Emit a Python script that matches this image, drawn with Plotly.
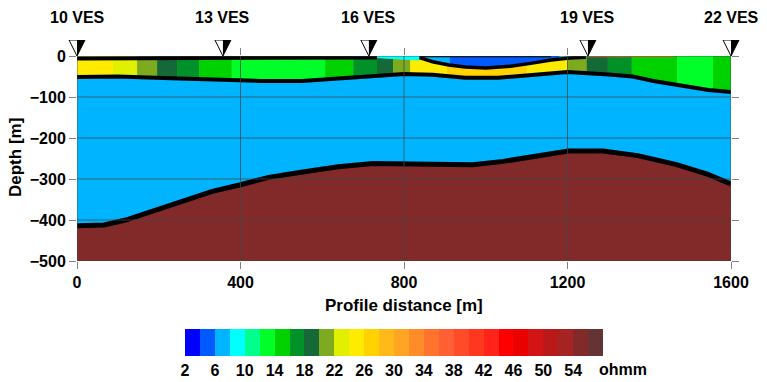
import numpy as np
import plotly.graph_objects as go

W, H = 767, 382

# ---------------- data ----------------
ves_labels = ["10 VES", "13 VES", "16 VES", "19 VES", "22 VES"]
ves_x = [0, 357, 714, 1250, 1600]

# bottom of the top (coloured) layer
top_x = [0, 100, 230, 350, 400, 450, 550, 630, 730, 800, 870, 950, 1030, 1115, 1200,
         1300, 1360, 1410, 1460, 1495, 1545, 1600]
top_d = [-51, -50, -54, -57, -58, -61, -61, -55, -49, -44, -46, -53, -53, -46, -39,
         -45, -50, -61, -69, -76, -83, -88]

# boundary between the aquifer (blue) and the bedrock (brown)
base_x = [0, 66, 119, 183, 225, 278, 331, 400, 469, 544, 639, 724, 809, 883, 968,
          1043, 1128, 1202, 1287, 1372, 1467, 1542, 1600]
base_d = [-414, -412, -400, -378, -365, -347, -330, -314, -296, -284, -270, -262, -262,
          -265, -265, -257, -243, -232, -232, -243, -265, -288, -312]

# resistivity of the cells of the top layer
cell_edges = [0, 88, 147, 196, 245, 299, 378, 607, 676, 734, 773, 815, 905, 1100, 1200,
              1247, 1298, 1357, 1468, 1556, 1600]
cell_rho = [25, 23, 21, 19, 17, 15, 13, 15, 17, 19, 21, 25, 27, 25, 21, 19, 17, 15, 13, 15]

# shallow lens
lens_x = [838, 870, 910, 950, 1000, 1060, 1110, 1160, 1205, 1245]
lens_d = [-4, -14, -22, -27, -29, -25, -18, -10, -5, -3]
lens_edges = [838, 912, 1180, 1245]
lens_rho = [7, 5, 9]

cyan_x = [734, 838]
cyan_d = [-4, -10]
cyan_rho = 9

aquifer_rho = 7
bedrock_rho = 55
surf_rho = 36
surf_x = [1250, 1460]

cbar_ticks = [2, 6, 10, 14, 18, 22, 26, 30, 34, 38, 42, 46, 50, 54]
rho_min, rho_max = 2, 58

palette = [
    (0, 0, 255), (0, 90, 255), (0, 180, 255), (0, 255, 255), (0, 255, 140),
    (0, 255, 40), (0, 210, 0), (0, 145, 40), (20, 105, 55), (125, 170, 30),
    (225, 240, 0), (255, 235, 0), (255, 210, 0), (255, 185, 25), (255, 165, 35),
    (255, 140, 40), (255, 115, 45), (255, 95, 50), (255, 75, 40), (255, 55, 30),
    (255, 35, 25), (255, 0, 0), (235, 0, 0), (210, 20, 20), (185, 25, 25),
    (165, 35, 35), (130, 42, 42), (100, 52, 52),
]
n = len(palette)
step = (rho_max - rho_min) / n


def col(rho):
    i = int(np.clip((rho - rho_min) // step, 0, n - 1))
    r, g, b = palette[i]
    return f"rgb({r},{g},{b})"


cscale = []
for i, (r, g, b) in enumerate(palette):
    c = f"rgb({r},{g},{b})"
    cscale.append([i / n, c])
    cscale.append([(i + 1) / n, c])

fig = go.Figure()


def poly(xs, ys, color, xa="x", ya="y", lw=1, lc=None):
    fig.add_trace(go.Scatter(x=xs, y=ys, mode="lines", fill="toself", fillcolor=color,
                             line=dict(color=lc or color, width=lw), xaxis=xa, yaxis=ya,
                             hoverinfo="skip", showlegend=False))


def segment_with_bound(x0, x1, bx, bd):
    inner = [v for v in bx if x0 < v < x1]
    xs = [x0] + inner + [x1]
    ds = list(np.interp(xs, bx, bd))
    return xs, ds


# bedrock
bx = list(base_x)
poly(bx + bx[::-1], list(base_d) + [-520] * len(bx), col(bedrock_rho))
# aquifer
txs = list(top_x)
poly(txs + bx[::-1], list(top_d) + list(base_d)[::-1], col(aquifer_rho))
# top layer cells
for x0, x1, r in zip(cell_edges[:-1], cell_edges[1:], cell_rho):
    xs, ds = segment_with_bound(x0, x1, top_x, top_d)
    poly([x0, x1] + xs[::-1], [0, 0] + ds[::-1], col(r))
# cyan strip
poly([cyan_x[0], cyan_x[1], cyan_x[1], cyan_x[0]], [0, 0, cyan_d[1], cyan_d[0]], col(cyan_rho))
# lens
for x0, x1, r in zip(lens_edges[:-1], lens_edges[1:], lens_rho):
    xs, ds = segment_with_bound(x0, x1, lens_x, lens_d)
    poly([x0, x1] + xs[::-1], [0, 0] + ds[::-1], col(r))


# black boundary lines
def bline(xs, ys, w):
    fig.add_trace(go.Scatter(x=xs, y=ys, mode="lines", line=dict(color="black", width=w),
                             hoverinfo="skip", showlegend=False))


bline([0, cyan_x[0]], [-6, -3.5], 4)
bline(lens_x, lens_d, 3.5)
bline([lens_x[0], lens_x[-3]], [-1, -1], 1.5)
bline(top_x, top_d, 4)
bline(base_x, base_d, 5)
fig.add_trace(go.Scatter(x=surf_x, y=[-1, -1], mode="lines",
                         line=dict(color=col(surf_rho), width=1.5), opacity=0.8,
                         hoverinfo="skip", showlegend=False))

# colour bar
fig.add_trace(go.Scatter(
    x=[None], y=[None], mode="markers", showlegend=False, hoverinfo="skip",
    marker=dict(color=[rho_min], cmin=rho_min, cmax=rho_max, colorscale=cscale,
                showscale=True,
                colorbar=dict(orientation="h", x=394 / W, xanchor="center",
                              y=1 - 350.5 / H, yanchor="middle",
                              len=438, lenmode="pixels", thickness=27,
                              tickvals=cbar_ticks, ticks="", outlinewidth=0,
                              tickfont=dict(family="Liberation Sans", size=16,
                                            color="black", weight="bold"))),
))

# VES markers in a strip above the section
x_lo, x_hi = 77, 731
sc = (x_hi - x_lo) / 1600.0
s_lo, s_hi = 40, 765
tri_h = 8.0 / sc
for xv in ves_x:
    poly([xv - tri_h, xv, xv, xv - tri_h], [1, 1, 0, 1], "white", xa="x2", ya="y2", lw=0)
    poly([xv, xv + tri_h, xv, xv], [1, 1, 0, 1], "black", xa="x2", ya="y2", lw=0)
    fig.add_trace(go.Scatter(x=[xv - tri_h, xv + tri_h, xv, xv - tri_h], y=[1, 1, 0, 1],
                             mode="lines", line=dict(color="black", width=1),
                             xaxis="x2", yaxis="y2", hoverinfo="skip", showlegend=False))

# grid drawn above fills
grid_c = "rgba(70,70,70,0.75)"
shapes = []
for xv in [0, 400, 800, 1200, 1600]:
    shapes.append(dict(type="line", xref="x", yref="y", x0=xv, x1=xv, y0=-500, y1=0,
                       line=dict(color=grid_c, width=1), layer="above"))
for yv in [0, -100, -200, -300, -400, -500]:
    shapes.append(dict(type="line", xref="x", yref="y", x0=0, x1=1600, y0=yv, y1=yv,
                       line=dict(color=grid_c, width=1), layer="above"))

font_b = dict(family="Liberation Sans", size=16, color="black", weight="bold")
ann = []
for lab, xv in zip(ves_labels, ves_x):
    ann.append(dict(text=lab, x=xv, xref="x", y=1 - 17 / H, yref="paper", showarrow=False,
                    xanchor="center", yanchor="middle", font=font_b))
ann.append(dict(text="Profile distance [m]", x=404 / W, y=1 - 305 / H, xref="paper",
                yref="paper", showarrow=False, xanchor="center", yanchor="middle",
                font=dict(family="Liberation Sans", size=17, color="black", weight="bold")))
ann.append(dict(text="Depth [m]", x=15 / W, y=1 - 158 / H, xref="paper", yref="paper",
                showarrow=False, textangle=-90, xanchor="center", yanchor="middle",
                font=dict(family="Liberation Sans", size=17, color="black", weight="bold")))
ann.append(dict(text="ohmm", x=623 / W, y=1 - 369 / H, xref="paper", yref="paper",
                showarrow=False, xanchor="center", yanchor="middle", font=font_b))

fig.update_layout(
    width=W, height=H, margin=dict(l=0, r=0, t=0, b=0, autoexpand=False),
    paper_bgcolor="white", plot_bgcolor="white",
    showlegend=False,
    xaxis=dict(domain=[x_lo / W, x_hi / W], range=[0, 1600], tickvals=[0, 400, 800, 1200, 1600],
               showgrid=False, zeroline=False, ticks="outside", ticklen=7,
               tickcolor="rgb(130,130,130)", mirror="ticks", showline=False,
               tickfont=font_b, anchor="y", automargin=False),
    yaxis=dict(domain=[1 - 261 / H, 1 - 56 / H], range=[-500, 0],
               tickvals=[0, -100, -200, -300, -400, -500], showgrid=False, zeroline=False,
               ticks="outside", ticklen=7, tickcolor="rgb(130,130,130)", mirror="ticks",
               showline=False, tickfont=font_b, anchor="x", automargin=False),
    xaxis2=dict(domain=[s_lo / W, s_hi / W],
                range=[-(x_lo - s_lo) / sc, 1600 + (s_hi - x_hi) / sc],
                visible=False, anchor="y2"),
    yaxis2=dict(domain=[1 - 56 / H, 1 - 40 / H], range=[0, 1], visible=False, anchor="x2"),
    shapes=shapes, annotations=ann,
)

fig.write_html("out.html")
